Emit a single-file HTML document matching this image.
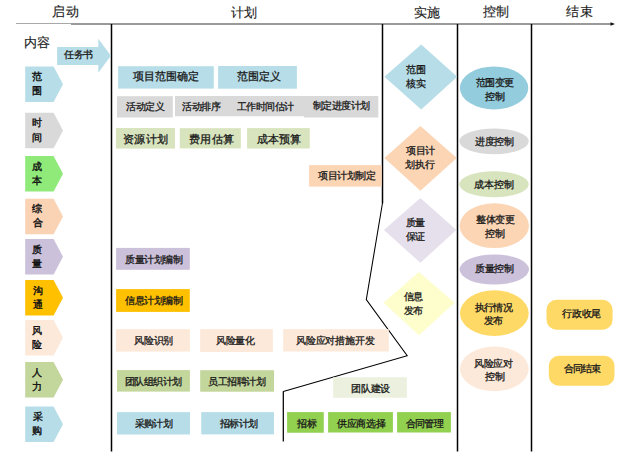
<!DOCTYPE html>
<html><head><meta charset="utf-8"><style>
html,body{margin:0;padding:0;background:#fff;width:640px;height:456px;overflow:hidden}
body{position:relative;font-family:"Liberation Sans",sans-serif}
svg{position:absolute;left:0;top:0}
i{position:absolute;font-style:normal;white-space:nowrap}
</style></head><body>
<svg width="640" height="456" viewBox="0 0 640 456">
<line x1="16" y1="23.5" x2="71" y2="23.5" stroke="#a8a8a8" stroke-width="1.2"/>
<line x1="71" y1="24" x2="611" y2="24" stroke="#9a9a9a" stroke-width="1.8"/>
<polygon points="610.5,22.2 615,24 610.5,25.8" fill="#111"/>
<line x1="111.5" y1="24" x2="111.5" y2="451.5" stroke="#000" stroke-width="1.5"/>
<line x1="457.5" y1="24" x2="457.5" y2="451.5" stroke="#000" stroke-width="1.5"/>
<line x1="531.5" y1="24" x2="531.5" y2="451.5" stroke="#000" stroke-width="1.5"/>
<line x1="382.5" y1="24" x2="382.5" y2="203.3" stroke="#000" stroke-width="1.5"/>
<polyline points="382.5,203 366.3,299.6 407.2,355.8 283.3,391.6" fill="none" stroke="#000" stroke-width="1.05"/>
<line x1="283.3" y1="391.2" x2="283.3" y2="441.5" stroke="#000" stroke-width="1.25"/>
<polygon points="57.1,47 98.3,47 98.3,38.8 110.9,55.8 98.3,72.8 98.3,64.9 57.1,64.9" fill="#b7dee8"/>
<polygon points="25.2,66.5 53.6,66.5 63,84.25 53.6,102.00 25.2,102.00" fill="#b7dee8"/>
<polygon points="25.2,112.7 53.6,112.7 63,130.45 53.6,148.20 25.2,148.20" fill="#d9d9d9"/>
<polygon points="25.2,156 53.6,156 63,173.75 53.6,191.50 25.2,191.50" fill="#90ea7a"/>
<polygon points="25.2,198.7 53.6,198.7 63,216.45 53.6,234.20 25.2,234.20" fill="#fad3b4"/>
<polygon points="25.2,239 53.6,239 63,256.75 53.6,274.50 25.2,274.50" fill="#ccc1da"/>
<polygon points="25.2,280 53.6,280 63,297.75 53.6,315.50 25.2,315.50" fill="#ffc000"/>
<polygon points="25.2,320 53.6,320 63,337.75 53.6,355.50 25.2,355.50" fill="#fde9d9"/>
<polygon points="25.2,362 53.6,362 63,379.75 53.6,397.50 25.2,397.50" fill="#c3d69b"/>
<polygon points="25.2,406.4 53.6,406.4 63,424.15 53.6,441.90 25.2,441.90" fill="#b7dee8"/>
<rect x="118.1" y="66.2" width="95.70" height="22.40" fill="#b7dee8"/>
<rect x="218.1" y="66.0" width="78.80" height="22.70" fill="#b7dee8"/>
<rect x="117" y="96.2" width="55.80" height="21.30" fill="#d9d9d9"/>
<rect x="175" y="96" width="129.00" height="20.30" fill="#d9d9d9"/>
<rect x="304" y="96" width="74.30" height="21.50" fill="#d9d9d9"/>
<rect x="116" y="128" width="59.00" height="20.60" fill="#d7e4bd"/>
<rect x="179.8" y="128.2" width="61.00" height="20.20" fill="#d7e4bd"/>
<rect x="247.1" y="128.1" width="62.65" height="20.40" fill="#d7e4bd"/>
<rect x="309.1" y="165.1" width="72.50" height="21.50" fill="#fcd5b5"/>
<rect x="116.1" y="247.9" width="73.70" height="21.90" fill="#ccc1da"/>
<rect x="116.1" y="289.1" width="73.70" height="22.80" fill="#ffc000"/>
<rect x="115.9" y="329.1" width="74.00" height="22.50" fill="#fde9d9"/>
<rect x="200.2" y="329.1" width="72.60" height="22.90" fill="#fde9d9"/>
<rect x="283.2" y="329.1" width="105.60" height="22.40" fill="#fde9d9"/>
<rect x="117" y="370.1" width="72.90" height="21.50" fill="#c3d69b"/>
<rect x="200.2" y="370.2" width="73.80" height="21.50" fill="#c3d69b"/>
<rect x="333.1" y="377.25" width="73.80" height="20.50" fill="#ebf1de"/>
<rect x="117" y="412.1" width="73.00" height="22.40" fill="#b7dee8"/>
<rect x="201.25" y="412.1" width="72.75" height="22.30" fill="#b7dee8"/>
<rect x="287.1" y="412.1" width="36.65" height="20.65" fill="#92d050"/>
<rect x="328.1" y="412.1" width="64.80" height="20.40" fill="#92d050"/>
<rect x="397.1" y="412.1" width="53.80" height="20.40" fill="#92d050"/>
<polygon points="421.2,44.6 457.2,76.75 421.2,109.6 384.4,76.75" fill="#b7dee8"/>
<polygon points="420.4,125.9 456.8,158 420.4,190.8 384.4,158" fill="#fcd5b5"/>
<polygon points="420.4,197.9 456.3,230 420.4,262.8 383.9,230" fill="#e6e0ec"/>
<polygon points="419,272 454.6,302.7 419,335.2 383.5,302.7" fill="#fefecc"/>
<ellipse cx="494.10" cy="87.90" rx="34.20" ry="21.50" fill="#93cddd"/>
<ellipse cx="494.05" cy="141.30" rx="34.65" ry="12.90" fill="#d9d9d9"/>
<ellipse cx="494.05" cy="184.20" rx="34.65" ry="13.00" fill="#d7e4bd"/>
<ellipse cx="494.30" cy="225.70" rx="34.70" ry="22.40" fill="#fcd5b5"/>
<ellipse cx="494.30" cy="269.50" rx="34.70" ry="15.10" fill="#ccc1da"/>
<ellipse cx="494.35" cy="313.15" rx="34.35" ry="22.85" fill="#ffd966"/>
<ellipse cx="494.35" cy="368.95" rx="34.35" ry="22.35" fill="#fde9d9"/>
<rect x="546.5" y="299.8" width="66.10" height="29.90" rx="10" fill="#ffd966"/>
<rect x="548.8" y="355.75" width="65.70" height="29.95" rx="10" fill="#ffd966"/>
</svg>
<i style="left:52px;top:6px;font-size:12.5px;line-height:12.5px;font-weight:normal;-webkit-text-stroke:0.15px;color:#222;letter-spacing:1.0px">启动</i>
<i style="left:231px;top:7px;font-size:12.5px;line-height:12.5px;font-weight:normal;-webkit-text-stroke:0.15px;color:#222">计划</i>
<i style="left:414px;top:7px;font-size:12.5px;line-height:12.5px;font-weight:normal;-webkit-text-stroke:0.15px;color:#222;letter-spacing:-0.5px">实施</i>
<i style="left:483px;top:6px;font-size:12.5px;line-height:12.5px;font-weight:normal;-webkit-text-stroke:0.15px;color:#222;letter-spacing:-0.3px">控制</i>
<i style="left:566px;top:6px;font-size:12.5px;line-height:12.5px;font-weight:normal;-webkit-text-stroke:0.15px;color:#222;letter-spacing:0.7px">结束</i>
<i style="left:24px;top:37px;font-size:12.5px;line-height:12.5px;font-weight:normal;-webkit-text-stroke:0.15px;color:#222;letter-spacing:-0.2px">内容</i>
<i style="left:32px;top:72px;font-size:10px;line-height:10px;font-weight:normal;-webkit-text-stroke:0.4px;color:#111">范</i>
<i style="left:32px;top:86px;font-size:10px;line-height:10px;font-weight:normal;-webkit-text-stroke:0.4px;color:#111">围</i>
<i style="left:32px;top:118px;font-size:10px;line-height:10px;font-weight:normal;-webkit-text-stroke:0.4px;color:#111">时</i>
<i style="left:32px;top:133px;font-size:10px;line-height:10px;font-weight:normal;-webkit-text-stroke:0.4px;color:#111">间</i>
<i style="left:32px;top:162px;font-size:10px;line-height:10px;font-weight:normal;-webkit-text-stroke:0.4px;color:#111">成</i>
<i style="left:32px;top:176px;font-size:10px;line-height:10px;font-weight:normal;-webkit-text-stroke:0.4px;color:#111">本</i>
<i style="left:32px;top:204px;font-size:10px;line-height:10px;font-weight:normal;-webkit-text-stroke:0.4px;color:#111">综</i>
<i style="left:33px;top:218px;font-size:10px;line-height:10px;font-weight:normal;-webkit-text-stroke:0.4px;color:#111">合</i>
<i style="left:32px;top:245px;font-size:10px;line-height:10px;font-weight:normal;-webkit-text-stroke:0.4px;color:#111">质</i>
<i style="left:32px;top:259px;font-size:10px;line-height:10px;font-weight:normal;-webkit-text-stroke:0.4px;color:#111">量</i>
<i style="left:33px;top:286px;font-size:10px;line-height:10px;font-weight:normal;-webkit-text-stroke:0.4px;color:#111">沟</i>
<i style="left:33px;top:300px;font-size:10px;line-height:10px;font-weight:normal;-webkit-text-stroke:0.4px;color:#111">通</i>
<i style="left:32px;top:326px;font-size:10px;line-height:10px;font-weight:normal;-webkit-text-stroke:0.4px;color:#111">风</i>
<i style="left:32px;top:340px;font-size:10px;line-height:10px;font-weight:normal;-webkit-text-stroke:0.4px;color:#111">险</i>
<i style="left:32px;top:368px;font-size:10px;line-height:10px;font-weight:normal;-webkit-text-stroke:0.4px;color:#111">人</i>
<i style="left:32px;top:382px;font-size:10px;line-height:10px;font-weight:normal;-webkit-text-stroke:0.4px;color:#111">力</i>
<i style="left:33px;top:412px;font-size:10px;line-height:10px;font-weight:normal;-webkit-text-stroke:0.4px;color:#111">采</i>
<i style="left:32px;top:426px;font-size:10px;line-height:10px;font-weight:normal;-webkit-text-stroke:0.4px;color:#111">购</i>
<i style="left:133px;top:71px;font-size:11px;line-height:11px;font-weight:normal;-webkit-text-stroke:0.3px;color:#1a1a1a;letter-spacing:-0.06px">项目范围确定</i>
<i style="left:237px;top:71px;font-size:11px;line-height:11px;font-weight:normal;-webkit-text-stroke:0.3px;color:#1a1a1a;letter-spacing:0.03px">范围定义</i>
<i style="left:126px;top:102px;font-size:9.5px;line-height:9.5px;font-weight:normal;-webkit-text-stroke:0.3px;color:#1a1a1a;letter-spacing:-0.5px">活动定义</i>
<i style="left:182px;top:102px;font-size:9.5px;line-height:9.5px;font-weight:normal;-webkit-text-stroke:0.3px;color:#1a1a1a;letter-spacing:-0.5px">活动排序</i>
<i style="left:237px;top:102px;font-size:9.5px;line-height:9.5px;font-weight:normal;-webkit-text-stroke:0.3px;color:#1a1a1a;letter-spacing:-0.56px">工作时间估计</i>
<i style="left:313px;top:101px;font-size:9.5px;line-height:9.5px;font-weight:normal;-webkit-text-stroke:0.3px;color:#1a1a1a;letter-spacing:-0.52px">制定进度计划</i>
<i style="left:123px;top:134px;font-size:11px;line-height:11px;font-weight:normal;-webkit-text-stroke:0.3px;color:#1a1a1a;letter-spacing:0.4px">资源计划</i>
<i style="left:189px;top:134px;font-size:11px;line-height:11px;font-weight:normal;-webkit-text-stroke:0.3px;color:#1a1a1a;letter-spacing:0.47px">费用估算</i>
<i style="left:257px;top:134px;font-size:11px;line-height:11px;font-weight:normal;-webkit-text-stroke:0.3px;color:#1a1a1a;letter-spacing:0.12px">成本预算</i>
<i style="left:318px;top:171px;font-size:9.5px;line-height:9.5px;font-weight:normal;-webkit-text-stroke:0.3px;color:#1a1a1a;letter-spacing:-0.5px">项目计划制定</i>
<i style="left:125px;top:255px;font-size:9.5px;line-height:9.5px;font-weight:normal;-webkit-text-stroke:0.3px;color:#1a1a1a;letter-spacing:-0.46px">质量计划编制</i>
<i style="left:125px;top:296px;font-size:9.5px;line-height:9.5px;font-weight:normal;-webkit-text-stroke:0.3px;color:#1a1a1a;letter-spacing:-0.46px">信息计划编制</i>
<i style="left:134px;top:336px;font-size:9.5px;line-height:9.5px;font-weight:normal;-webkit-text-stroke:0.3px;color:#1a1a1a;letter-spacing:-0.23px">风险识别</i>
<i style="left:216px;top:336px;font-size:9.5px;line-height:9.5px;font-weight:normal;-webkit-text-stroke:0.3px;color:#1a1a1a;letter-spacing:-0.5px">风险量化</i>
<i style="left:296px;top:336px;font-size:9.5px;line-height:9.5px;font-weight:normal;-webkit-text-stroke:0.3px;color:#1a1a1a;letter-spacing:-0.2px">风险应对措施开发</i>
<i style="left:125px;top:377px;font-size:9.5px;line-height:9.5px;font-weight:normal;-webkit-text-stroke:0.3px;color:#1a1a1a;letter-spacing:-0.55px">团队组织计划</i>
<i style="left:208px;top:377px;font-size:9.5px;line-height:9.5px;font-weight:normal;-webkit-text-stroke:0.3px;color:#1a1a1a;letter-spacing:-0.44px">员工招聘计划</i>
<i style="left:351px;top:384px;font-size:9.5px;line-height:9.5px;font-weight:normal;-webkit-text-stroke:0.3px;color:#1a1a1a;letter-spacing:-0.17px">团队建设</i>
<i style="left:135px;top:419px;font-size:9.5px;line-height:9.5px;font-weight:normal;-webkit-text-stroke:0.3px;color:#1a1a1a;letter-spacing:-0.83px">采购计划</i>
<i style="left:220px;top:419px;font-size:9.5px;line-height:9.5px;font-weight:normal;-webkit-text-stroke:0.3px;color:#1a1a1a;letter-spacing:-0.7px">招标计划</i>
<i style="left:297px;top:419px;font-size:9.5px;line-height:9.5px;font-weight:normal;-webkit-text-stroke:0.3px;color:#1a1a1a;letter-spacing:-0.3px">招标</i>
<i style="left:337px;top:419px;font-size:9.5px;line-height:9.5px;font-weight:normal;-webkit-text-stroke:0.3px;color:#1a1a1a;letter-spacing:-0.31px">供应商选择</i>
<i style="left:406px;top:419px;font-size:9.5px;line-height:9.5px;font-weight:normal;-webkit-text-stroke:0.3px;color:#1a1a1a;letter-spacing:-0.83px">合同管理</i>
<i style="left:406px;top:65px;font-size:9.5px;line-height:9.5px;font-weight:normal;-webkit-text-stroke:0.3px;color:#1a1a1a;letter-spacing:-0.4px">范围</i>
<i style="left:406px;top:79px;font-size:9.5px;line-height:9.5px;font-weight:normal;-webkit-text-stroke:0.3px;color:#1a1a1a;letter-spacing:-0.4px">核实</i>
<i style="left:406px;top:146px;font-size:9.5px;line-height:9.5px;font-weight:normal;-webkit-text-stroke:0.3px;color:#1a1a1a;letter-spacing:-0.35px">项目计</i>
<i style="left:405px;top:160px;font-size:9.5px;line-height:9.5px;font-weight:normal;-webkit-text-stroke:0.3px;color:#1a1a1a;letter-spacing:0.15px">划执行</i>
<i style="left:406px;top:218px;font-size:9.5px;line-height:9.5px;font-weight:normal;-webkit-text-stroke:0.3px;color:#1a1a1a;letter-spacing:-1.0px">质量</i>
<i style="left:406px;top:232px;font-size:9.5px;line-height:9.5px;font-weight:normal;-webkit-text-stroke:0.3px;color:#1a1a1a;letter-spacing:-1.0px">保证</i>
<i style="left:404px;top:292px;font-size:9.5px;line-height:9.5px;font-weight:normal;-webkit-text-stroke:0.3px;color:#1a1a1a;letter-spacing:-1.0px">信息</i>
<i style="left:404px;top:306px;font-size:9.5px;line-height:9.5px;font-weight:normal;-webkit-text-stroke:0.3px;color:#1a1a1a;letter-spacing:-1.0px">发布</i>
<i style="left:476px;top:78px;font-size:9.5px;line-height:9.5px;font-weight:normal;-webkit-text-stroke:0.3px;color:#1a1a1a;letter-spacing:-0.6px">范围变更</i>
<i style="left:485px;top:92px;font-size:9.5px;line-height:9.5px;font-weight:normal;-webkit-text-stroke:0.3px;color:#1a1a1a;letter-spacing:-0.5px">控制</i>
<i style="left:475px;top:137px;font-size:9.5px;line-height:9.5px;font-weight:normal;-webkit-text-stroke:0.3px;color:#1a1a1a;letter-spacing:-0.43px">进度控制</i>
<i style="left:474px;top:180px;font-size:9.5px;line-height:9.5px;font-weight:normal;-webkit-text-stroke:0.3px;color:#1a1a1a;letter-spacing:-0.1px">成本控制</i>
<i style="left:476px;top:215px;font-size:9.5px;line-height:9.5px;font-weight:normal;-webkit-text-stroke:0.3px;color:#1a1a1a;letter-spacing:-0.35px">整体变更</i>
<i style="left:485px;top:229px;font-size:9.5px;line-height:9.5px;font-weight:normal;-webkit-text-stroke:0.3px;color:#1a1a1a;letter-spacing:-0.5px">控制</i>
<i style="left:475px;top:264px;font-size:9.5px;line-height:9.5px;font-weight:normal;-webkit-text-stroke:0.3px;color:#1a1a1a;letter-spacing:-0.37px">质量控制</i>
<i style="left:475px;top:303px;font-size:9.5px;line-height:9.5px;font-weight:normal;-webkit-text-stroke:0.3px;color:#1a1a1a;letter-spacing:-0.83px">执行情况</i>
<i style="left:484px;top:316px;font-size:9.5px;line-height:9.5px;font-weight:normal;-webkit-text-stroke:0.3px;color:#1a1a1a;letter-spacing:-1.0px">发布</i>
<i style="left:474px;top:359px;font-size:9.5px;line-height:9.5px;font-weight:normal;-webkit-text-stroke:0.3px;color:#1a1a1a;letter-spacing:-0.5px">风险应对</i>
<i style="left:485px;top:372px;font-size:9.5px;line-height:9.5px;font-weight:normal;-webkit-text-stroke:0.3px;color:#1a1a1a;letter-spacing:-0.5px">控制</i>
<i style="left:562px;top:309px;font-size:9.5px;line-height:9.5px;font-weight:normal;-webkit-text-stroke:0.3px;color:#1a1a1a;letter-spacing:-0.2px">行政收尾</i>
<i style="left:564px;top:364px;font-size:9.5px;line-height:9.5px;font-weight:normal;-webkit-text-stroke:0.3px;color:#1a1a1a;letter-spacing:-0.9px">合同结束</i>
<i style="left:64px;top:50px;font-size:9.5px;line-height:9.5px;font-weight:normal;-webkit-text-stroke:0.3px;color:#1a1a1a;letter-spacing:-0.4px">任务书</i>
</body></html>
